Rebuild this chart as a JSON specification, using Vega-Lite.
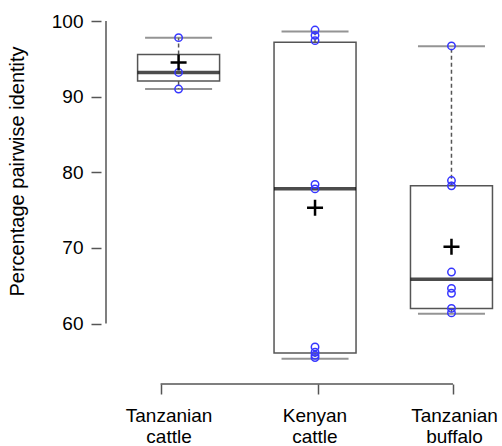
{
  "$schema": "https://vega.github.io/schema/vega-lite/v6.json",
  "width": 396,
  "height": 363,
  "autosize": {"type": "none"},
  "padding": {"left": 101, "top": 21, "right": 5, "bottom": 62},
  "config": {"view": {"stroke": null}, "font": "Liberation Sans"},
  "datasets": {
    "stats": [
      {"group": "Tanzanian cattle", "g": 1, "lower": 91.0, "q1": 92.07, "median": 93.18, "q3": 95.56, "upper": 97.8, "mean": 94.5},
      {"group": "Kenyan cattle", "g": 2, "lower": 55.35, "q1": 56.1, "median": 77.81, "q3": 97.19, "upper": 98.6, "mean": 75.3},
      {"group": "Tanzanian buffalo", "g": 3, "lower": 61.3, "q1": 62.0, "median": 65.84, "q3": 78.2, "upper": 96.66, "mean": 70.14}
    ],
    "pts": [
      {"g": 1, "v": 97.8}, {"g": 1, "v": 93.2}, {"g": 1, "v": 91.0},
      {"g": 2, "v": 98.8}, {"g": 2, "v": 98.1}, {"g": 2, "v": 97.4}, {"g": 2, "v": 78.4}, {"g": 2, "v": 77.8},
      {"g": 2, "v": 56.9}, {"g": 2, "v": 56.2}, {"g": 2, "v": 55.8}, {"g": 2, "v": 55.5},
      {"g": 3, "v": 96.7}, {"g": 3, "v": 78.9}, {"g": 3, "v": 78.2}, {"g": 3, "v": 66.8}, {"g": 3, "v": 64.65},
      {"g": 3, "v": 64.0}, {"g": 3, "v": 62.0}, {"g": 3, "v": 61.4}
    ],
    "axislines": [
      {"axis": "y", "from": 60, "to": 100},
      {"axis": "x", "from": 0.868, "to": 3.011}
    ]
  },
  "layer": [
    {
      "data": {"name": "stats"},
      "mark": {"type": "rule", "stroke": "#555", "strokeWidth": 1.5, "strokeDash": [4, 3]},
      "encoding": {
        "x": {"field": "g", "type": "quantitative", "scale": {"domain": [0.468, 3.297], "nice": false, "zero": false},
          "axis": {"values": [0.868, 2.025, 3.011], "title": null, "domain": false, "grid": false, "tickSize": 10, "tickColor": "#555", "tickWidth": 1.5,
            "labelExpr": "datum.value < 1.5 ? ['Tanzanian','cattle'] : datum.value < 2.5 ? ['Kenyan','cattle'] : ['Tanzanian','buffalo']",
            "labelOffset": {"condition": [{"test": "datum.value < 1.5", "value": 8}, {"test": "datum.value < 2.5", "value": -4}], "value": 1},
            "labelFontSize": 19, "labelFont": "Liberation Sans", "labelColor": "black", "labelLineHeight": 21, "labelPadding": 12,
            "labelFlush": false, "labelOverlap": false, "labelBound": false, "labelAlign": "center"}},
        "y": {"field": "q3", "type": "quantitative", "scale": {"domain": [52, 100], "nice": false, "zero": false},
          "axis": {"values": [60, 70, 80, 90, 100], "title": "Percentage pairwise identity", "domain": false, "grid": false,
            "tickSize": 10, "tickColor": "#555", "tickWidth": 1.5, "labelFontSize": 19, "labelFont": "Liberation Sans", "labelColor": "black", "labelPadding": 8,
            "titleFont": "Liberation Sans", "titleFontSize": 20, "titleFontWeight": "normal", "titleColor": "black",
            "titleX": -74, "titleY": 150, "titleAngle": -90, "titleBaseline": "bottom", "titleAlign": "center"}},
        "y2": {"field": "upper"}
      }
    },
    {
      "data": {"name": "stats"},
      "mark": {"type": "rule", "stroke": "#555", "strokeWidth": 1.5, "strokeDash": [4, 3]},
      "encoding": {
        "x": {"field": "g", "type": "quantitative"},
        "y": {"field": "q1", "type": "quantitative"},
        "y2": {"field": "lower"}
      }
    },
    {
      "data": {"name": "stats"},
      "mark": {"type": "tick", "orient": "horizontal", "size": 67, "thickness": 2, "color": "#666"},
      "encoding": {
        "x": {"field": "g", "type": "quantitative"},
        "y": {"field": "upper", "type": "quantitative"}
      }
    },
    {
      "data": {"name": "stats"},
      "mark": {"type": "tick", "orient": "horizontal", "size": 67, "thickness": 2, "color": "#666"},
      "encoding": {
        "x": {"field": "g", "type": "quantitative"},
        "y": {"field": "lower", "type": "quantitative"}
      }
    },
    {
      "data": {"name": "stats"},
      "mark": {"type": "bar", "size": 82, "fill": "white", "stroke": "#555", "strokeWidth": 1.5},
      "encoding": {
        "x": {"field": "g", "type": "quantitative"},
        "y": {"field": "q1", "type": "quantitative"},
        "y2": {"field": "q3"}
      }
    },
    {
      "data": {"name": "stats"},
      "mark": {"type": "tick", "orient": "horizontal", "size": 82, "thickness": 3.5, "color": "black"},
      "encoding": {
        "x": {"field": "g", "type": "quantitative"},
        "y": {"field": "median", "type": "quantitative"}
      }
    },
    {
      "data": {"name": "pts"},
      "mark": {"type": "point", "shape": "circle", "filled": false, "stroke": "#3636ff", "strokeWidth": 1.5, "size": 55, "opacity": 1},
      "encoding": {
        "x": {"field": "g", "type": "quantitative"},
        "y": {"field": "v", "type": "quantitative"}
      }
    },
    {
      "data": {"name": "stats"},
      "mark": {"type": "point", "shape": "M-1,0L1,0M0,-1L0,1", "filled": false, "stroke": "black", "strokeWidth": 2.5, "size": 256, "opacity": 1},
      "encoding": {
        "x": {"field": "g", "type": "quantitative"},
        "y": {"field": "mean", "type": "quantitative"}
      }
    },
    {
      "data": {"name": "axislines"},
      "transform": [{"filter": "datum.axis === 'y'"}],
      "mark": {"type": "rule", "stroke": "#555", "strokeWidth": 1.5},
      "encoding": {
        "x": {"datum": 0.468, "type": "quantitative"},
        "y": {"field": "from", "type": "quantitative"},
        "y2": {"field": "to"}
      }
    },
    {
      "data": {"name": "axislines"},
      "transform": [{"filter": "datum.axis === 'x'"}],
      "mark": {"type": "rule", "stroke": "#555", "strokeWidth": 1.5},
      "encoding": {
        "x": {"field": "from", "type": "quantitative"},
        "x2": {"field": "to"},
        "y": {"datum": 52, "type": "quantitative"}
      }
    }
  ]
}
